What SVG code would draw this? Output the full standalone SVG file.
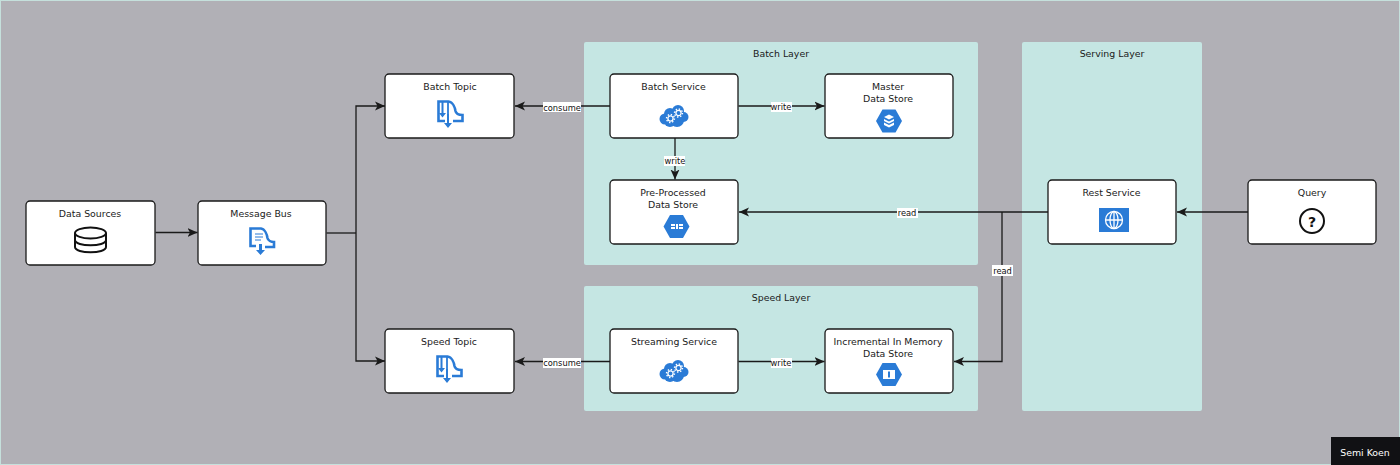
<svg xmlns="http://www.w3.org/2000/svg" width="1400" height="465" viewBox="0 0 1400 465">
<style>
text{font-family:"DejaVu Sans","Liberation Sans",sans-serif;font-size:9.4px;fill:#1a1a1a;text-anchor:middle}
#edge-labels text{font-size:8.300px;fill:#111}
.n{fill:#fff;stroke:#1a1a1a;stroke-width:1.3}
.l{fill:#c5e6e3}
.c{fill:none;stroke:#1a1a1a;stroke-width:1.3;marker-end:url(#a)}
.p{fill:none;stroke:#1a1a1a;stroke-width:1.3}
.b{fill:#2a7bd6}
.bs{fill:none;stroke:#2a7bd6;stroke-width:2.6}
.w{fill:#fff}
.ws{fill:none;stroke:#fff;stroke-width:1.300}
.k{fill:none;stroke:#111;stroke-width:2}
</style>
<defs>
<marker id="a" markerUnits="userSpaceOnUse" markerWidth="12" markerHeight="12" refX="10" refY="5" orient="auto"><path d="M0 .5L10 5L0 9.500L2.500 5Z" fill="#1a1a1a"/></marker>
<g id="cloud"><g class="b"><circle cx="-9" cy="3" r="5.500"/><circle cx="-4" cy="-2" r="6"/><circle cx="4" cy="-5" r="6"/><circle cx="9.500" cy="1" r="5"/><circle cx="3" cy="4" r="7"/><circle cx="-4" cy="5" r="6"/></g><circle class="ws" cx="-3.500" cy="2.500" r="2.600"/><circle cx="-3.500" cy="2.500" r="4" fill="none" stroke="#fff" stroke-width="1.400" stroke-dasharray="1.400 1.700"/><circle class="ws" cx="4.500" cy="-3" r="2.600"/><circle cx="4.500" cy="-3" r="4" fill="none" stroke="#fff" stroke-width="1.400" stroke-dasharray="1.400 1.700"/></g>
<g id="topic"><path class="bs" d="M-5 7H-11.500V-12.500H-1.500C3-12 5-6 5.500-3C6-.5 9 1 12.500 1V7H3"/><path d="M-2-12V7" stroke="#2a7bd6" stroke-width="1.800"/><path d="M-7.500-12V0M-2 0V9" stroke="#2a7bd6" stroke-width="2"/><path class="b" d="M-11-1H-4L-7.500 3.500ZM-6 9H2L-2 14Z"/></g>
<path id="hex" class="b" d="M-13 0L-6.500-11.500H6.500L13 0L6.500 11.500H-6.500Z"/>
</defs>
<rect width="1400" height="465" fill="#b1b0b6"/>
<rect x=".5" y=".5" width="1399" height="464" fill="none" stroke="#c5e0dc"/>
<g id="layers">
<g id="batch-layer"><rect class="l" x="584" y="42" width="394" height="223" rx="2"/><text x="781" y="57">Batch Layer</text></g>
<g id="speed-layer"><rect class="l" x="584" y="286" width="394" height="125" rx="2"/><text x="781" y="301">Speed Layer</text></g>
<g id="serving-layer"><rect class="l" x="1022" y="42" width="180" height="369" rx="2"/><text x="1112" y="57">Serving Layer</text></g>
</g>
<g id="connectors">
<path class="c" d="M155.500 232.500H197.500"/>
<path class="p" d="M326.500 233H356"/>
<path class="c" d="M356 233V106H385"/>
<path class="c" d="M356 233V361H385"/>
<path class="c" d="M610 106H515"/>
<path class="c" d="M738.500 106H824.500"/>
<path class="c" d="M675 138V179.500"/>
<path class="c" d="M1048 212H739"/>
<path class="c" d="M1002 212V361.500H954"/>
<path class="c" d="M1248 212H1177"/>
<path class="c" d="M610 361.500H515"/>
<path class="c" d="M738.500 361.500H824.500"/>
<g id="edge-labels">
<rect class="w" x="543" y="102" width="38" height="10"/><text x="562" y="110.500">consume</text>
<rect class="w" x="771" y="102" width="21" height="10"/><text x="781" y="110">write</text>
<rect class="w" x="664" y="156" width="21" height="10"/><text x="675" y="164">write</text>
<rect class="w" x="897" y="208" width="21" height="10"/><text x="907" y="216">read</text>
<rect class="w" x="992" y="265" width="21" height="11"/><text x="1002.500" y="273.500">read</text>
<rect class="w" x="543" y="358" width="38" height="10"/><text x="562" y="366">consume</text>
<rect class="w" x="771" y="358" width="21" height="10"/><text x="781" y="366">write</text>
</g>
</g>
<g id="data-sources"><rect class="n" x="26" y="201" width="129" height="64" rx="4"/><text x="90" y="217">Data Sources</text>
<g class="k"><ellipse cx="90.500" cy="233" rx="15.500" ry="5.500"/><path d="M75 233V247C75 254 106 254 106 247V233M75 240C75 247 106 247 106 240"/></g></g>
<g id="message-bus"><rect class="n" x="198" y="201" width="128" height="64" rx="4"/><text x="261" y="217">Message Bus</text>
<g transform="translate(262 241)"><path class="bs" d="M-6 5H-11.500V-12.500H-1C3-12 5-6 5.500-3C6-.5 9 1 12 1V6H3"/><path d="M-8-10H1V1H-8Z" fill="#fff"/><path d="M-7-7H1M-7-4H1M-7-1H-1" stroke="#2a7bd6" stroke-width="1"/><path class="b" d="M-3 3H0V9H3L-1.500 14L-6 9H-3Z"/></g></g>
<g id="batch-topic"><rect class="n" x="385" y="74" width="129" height="64" rx="4"/><text x="450" y="90">Batch Topic</text><use href="#topic" transform="translate(450 114)"/></g>
<g id="speed-topic"><rect class="n" x="385" y="329" width="129" height="64" rx="4"/><text x="449" y="345">Speed Topic</text><use href="#topic" transform="translate(449 369)"/></g>
<g id="batch-service"><rect class="n" x="610" y="74" width="128" height="64" rx="4"/><text x="673.500" y="90">Batch Service</text><use href="#cloud" transform="translate(674 116)"/></g>
<g id="streaming-service"><rect class="n" x="610" y="329" width="128" height="64" rx="4"/><text x="674" y="345">Streaming Service</text><use href="#cloud" transform="translate(674 371)"/></g>
<g id="master-store"><rect class="n" x="825" y="74" width="128" height="64" rx="4"/><text x="888" y="90">Master</text><text x="888" y="102">Data Store</text>
<use href="#hex" transform="translate(889 121)"/><path class="w" d="M889 114.500L894 117L889 119.500L884 117ZM884 119L889 121.500L894 119V121L889 123.500L884 121ZM884 122.500L889 125L894 122.500V125L889 127.500L884 125Z"/></g>
<g id="preprocessed-store"><rect class="n" x="610" y="180" width="128" height="64" rx="4"/><text x="673" y="196">Pre-Processed</text><text x="673" y="208">Data Store</text>
<use href="#hex" transform="translate(676.500 226.500)"/><path class="w" d="M671 224H675V226H671ZM671 227H675V229H671ZM676 224H678V229H676ZM679 224H683V226H679ZM679 227H683V229H679Z"/></g>
<g id="incremental-store"><rect class="n" x="825" y="329" width="128" height="64" rx="4"/><text x="888" y="345">Incremental In Memory</text><text x="888" y="357">Data Store</text>
<use href="#hex" transform="translate(889 374.500)"/><path class="w" d="M883 370H895V379H883Z"/><path d="M889 371.500V377.500" stroke="#2a7bd6" stroke-width="2"/></g>
<g id="rest-service"><rect class="n" x="1048" y="180" width="128" height="64" rx="4"/><text x="1111.500" y="196">Rest Service</text>
<rect x="1099" y="208" width="30" height="24" fill="#2a7bd6"/><g class="ws"><circle cx="1114" cy="220" r="8.500"/><ellipse cx="1114" cy="220" rx="4" ry="8.500"/><path d="M1105.500 220H1122.500M1114 211.500V228.500"/></g></g>
<g id="query"><rect class="n" x="1248" y="180" width="128" height="64" rx="4"/><text x="1312" y="196">Query</text>
<circle class="k" cx="1312" cy="221" r="12"/><text x="1312" y="226.500" style="font-size:14px;font-weight:bold;fill:#111">?</text></g>
<g id="credit"><rect x="1331" y="437" width="69" height="28" fill="#111114"/><text x="1365" y="455.500" style="fill:#fff">Semi Koen</text></g>
</svg>
